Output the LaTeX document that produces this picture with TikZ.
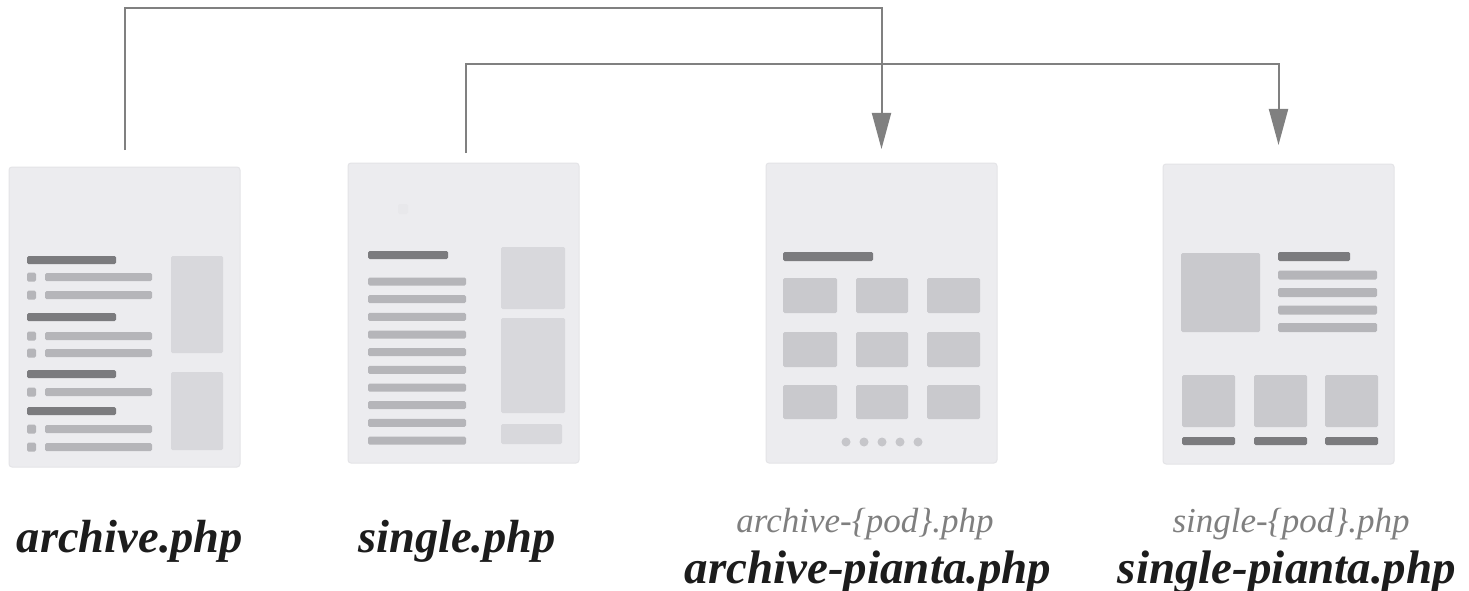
\documentclass[tikz,border=0pt]{standalone}
\usepackage{fontspec}
\setmainfont{Liberation Serif}
\usetikzlibrary{arrows.meta}
\definecolor{panelbg}{HTML}{ECECEF}
\definecolor{paneledge}{HTML}{E4E4E7}
\definecolor{faint}{HTML}{E8E8EB}
\definecolor{darkbar}{HTML}{7B7B7E}
\definecolor{litebar}{HTML}{B5B5B9}
\definecolor{sidebox}{HTML}{D8D8DC}
\definecolor{tilebox}{HTML}{C9C9CD}
\definecolor{dotc}{HTML}{C6C6CA}
\definecolor{conncol}{HTML}{808080}
\definecolor{graytext}{HTML}{7F7F7F}
\definecolor{blacktext}{HTML}{1C1C1C}
\newcommand\rbox[5]{\fill[#1,rounded corners=1.5pt] (#2,#3) rectangle (#4,#5);}
\begin{document}
\begin{tikzpicture}[x=1pt,y=-1pt,
  panel/.style={draw=paneledge,line width=1pt,fill=panelbg,rounded corners=3pt,
    minimum width=231pt,minimum height=300pt,inner sep=0pt,outer sep=0pt,anchor=north west},
  connector/.style={draw=conncol,line width=2pt,-{Triangle[length=36pt,width=19pt]}},
  biglbl/.style={anchor=base,text=blacktext,inner sep=0pt,font=\fontsize{47}{50}\selectfont\bfseries\itshape},
  midlbl/.style={anchor=base,text=blacktext,inner sep=0pt,font=\fontsize{46.5}{50}\selectfont\bfseries\itshape},
  podlbl/.style={anchor=base,text=graytext,inner sep=0pt,font=\fontsize{35}{38}\selectfont\itshape}]
\useasboundingbox (0,0) rectangle (1469,591);
\fill[white] (0,0) rectangle (1469,591);
% panels
\node[panel] (p1) at (9,167) {};
\node[panel] (p2) at (348,163) {};
\node[panel] (p3) at (766,163) {};
\node[panel] (p4) at (1163,164) {};
% panel 1 : archive
\foreach \y in {256,313,370,407} {\rbox{darkbar}{27}{\y}{116}{\y+8}}
\foreach \y in {277,295,336,353,392,429,447} {
  \rbox{litebar}{27}{\y-4.5}{36}{\y+4.5}
  \rbox{litebar}{45}{\y-4}{152}{\y+4}}
\rbox{sidebox}{171}{256}{223}{353}
\rbox{sidebox}{171}{372}{223}{450}
% panel 2 : single
\rbox{faint}{398}{204}{408}{214}
\rbox{darkbar}{368}{251}{448}{259}
\foreach \k in {0,...,9} {\rbox{litebar}{368}{277.5+17.67*\k}{466}{285.5+17.67*\k}}
\rbox{sidebox}{501}{247}{565}{309}
\rbox{sidebox}{501}{318}{565}{413}
\rbox{sidebox}{501}{424}{562}{444}
% panel 3 : archive-pianta
\rbox{darkbar}{783}{252}{873}{261}
\foreach \xa/\xb in {783/837,856/908,927/980}
  \foreach \ya/\yb in {278/313,332/367,385/419} {\rbox{tilebox}{\xa}{\ya}{\xb}{\yb}}
\foreach \x in {846,864,882,900,918} {\fill[dotc] (\x,442) circle (4.5);}
% panel 4 : single-pianta
\rbox{tilebox}{1181}{253}{1260}{332}
\rbox{darkbar}{1278}{252}{1350}{261}
\foreach \y in {275,292.5,310,327.5} {\rbox{litebar}{1278}{\y-4.5}{1377}{\y+4.5}}
\foreach \xa/\xb in {1182/1235,1254/1307,1325/1378} {
  \rbox{tilebox}{\xa}{375}{\xb}{427}
  \rbox{darkbar}{\xa}{437}{\xb}{445}}
% connectors
\coordinate (s1) at ([yshift=17pt]p1.north);
\coordinate (s2) at ([xshift=2.5pt,yshift=10pt]p2.north);
\coordinate (h1) at (0,8);
\coordinate (h2) at (0,64);
\draw[connector] (s1) -- (s1 |- h1) -| ([yshift=14pt]p3.north);
\draw[connector] (s2) -- (s2 |- h2) -| ([yshift=19pt]p4.north);
% labels
\node[midlbl] (l1) at (130,552) {archive.php};
\node[midlbl] (l2) at (457,552) {single.php};
\node[podlbl] (g3) at (865,532) {archive-\{pod\}.php};
\node[biglbl] (l3) at (868,583) {archive-pianta.php};
\node[podlbl] (g4) at (1291,532) {single-\{pod\}.php};
\node[biglbl] (l4) at (1287,583) {single-pianta.php};
\end{tikzpicture}
\end{document}
